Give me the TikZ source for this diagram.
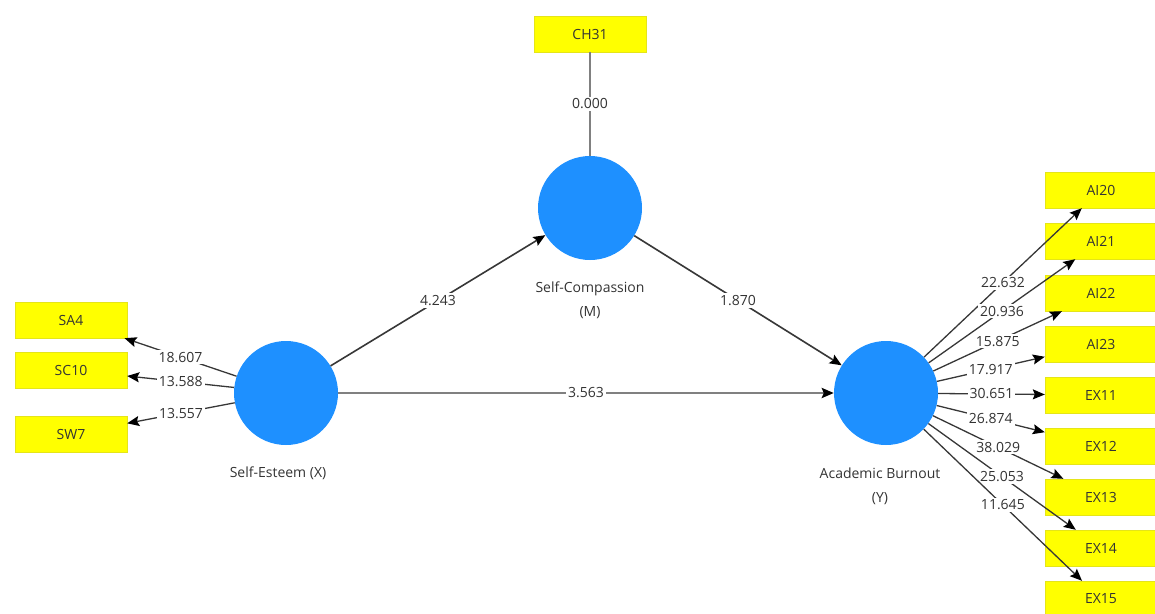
\documentclass[tikz,border=0pt]{standalone}
\usepackage{fontspec}
\setmainfont{Open Sans}
\usetikzlibrary{arrows.meta}
\definecolor{nodoblu}{RGB}{30,144,255}
\definecolor{giallo}{RGB}{255,255,0}
\definecolor{testo}{RGB}{51,51,51}
\definecolor{linea}{RGB}{55,55,55}
\definecolor{grigio}{RGB}{128,128,128}

\begin{document}
\begin{tikzpicture}[x=1pt, y=-1pt, font=\fontsize{14}{16}\selectfont, text=testo,
        latente/.style={circle, fill=nodoblu, minimum size=104pt, inner sep=0pt},
        indicatore/.style={rectangle, fill=giallo, draw=giallo!80!gray, minimum width=112pt, minimum height=36pt, inner sep=0pt},
        nome/.style={align=center, font=\fontsize{14}{24}\selectfont},
        peso/.style={fill=white, inner sep=2pt},
        punta/.style={-{Stealth[length=12pt, width=10pt, inset=2pt, color=black]}},
        freccia/.style={draw=linea, line width=1.3pt, punta},
        grossa/.style={draw=grigio, line width=2.6pt}]
        \useasboundingbox (0,0) rectangle (1155,613);

        % Variabili latenti
        \node (SE) at (286,393) [latente] {};
        \node (SC) at (590,208) [latente] {};
        \node (AB) at (886,393) [latente] {};
        \node (SEname) at (278,473) [nome] {Self-Esteem (X)};
        \node (SCname) at (590,300) [nome] {Self-Compassion\\(M)};
        \node (ABname) at (880,486) [nome] {Academic Burnout\\(Y)};

        % Indicatori
        \node (CH31) at (590,34) [indicatore] {CH31};
        \node (SA4) at (71,320) [indicatore] {SA4};
        \node (SC10) at (71,370) [indicatore] {SC10};
        \node (SW7) at (71,434) [indicatore] {SW7};
        \node (AI20) at (1101,190) [indicatore] {AI20};
        \node (AI21) at (1101,241) [indicatore] {AI21};
        \node (AI22) at (1101,293) [indicatore] {AI22};
        \node (AI23) at (1101,344) [indicatore] {AI23};
        \node (EX11) at (1101,395) [indicatore] {EX11};
        \node (EX12) at (1101,446) [indicatore] {EX12};
        \node (EX13) at (1101,497) [indicatore] {EX13};
        \node (EX14) at (1101,548) [indicatore] {EX14};
        \node (EX15) at (1101,599) [indicatore] {EX15};

        % Percorsi strutturali
        \draw[grossa] (SC) -- node[peso] {0.000} (CH31);
        \draw[freccia, line width=1.6pt] (SE) -- node[peso] {4.243} (SC);
        \draw[freccia, line width=1.6pt] (SC) -- node[peso] {1.870} (AB);
        \draw[grossa, punta] (SE) -- node[peso] {3.563} (AB);

        % Carichi esterni
        \draw[freccia] (SE) -- node[peso] {18.607} (SA4);
        \draw[freccia] (SE) -- node[peso] {13.588} (SC10);
        \draw[freccia] (SE) -- node[peso] {13.557} (SW7);
        \draw[freccia] (AB) -- node[peso] {22.632} (AI20);
        \draw[freccia] (AB) -- node[peso] {20.936} (AI21);
        \draw[freccia] (AB) -- node[peso] {15.875} (AI22);
        \draw[freccia] (AB) -- node[peso] {17.917} (AI23);
        \draw[freccia] (AB) -- node[peso] {30.651} (EX11);
        \draw[freccia] (AB) -- node[peso] {26.874} (EX12);
        \draw[freccia] (AB) -- node[peso] {38.029} (EX13);
        \draw[freccia] (AB) -- node[peso] {25.053} (EX14);
        \draw[freccia] (AB) -- node[peso] {11.645} (EX15);
    \end{tikzpicture}
\end{document}
